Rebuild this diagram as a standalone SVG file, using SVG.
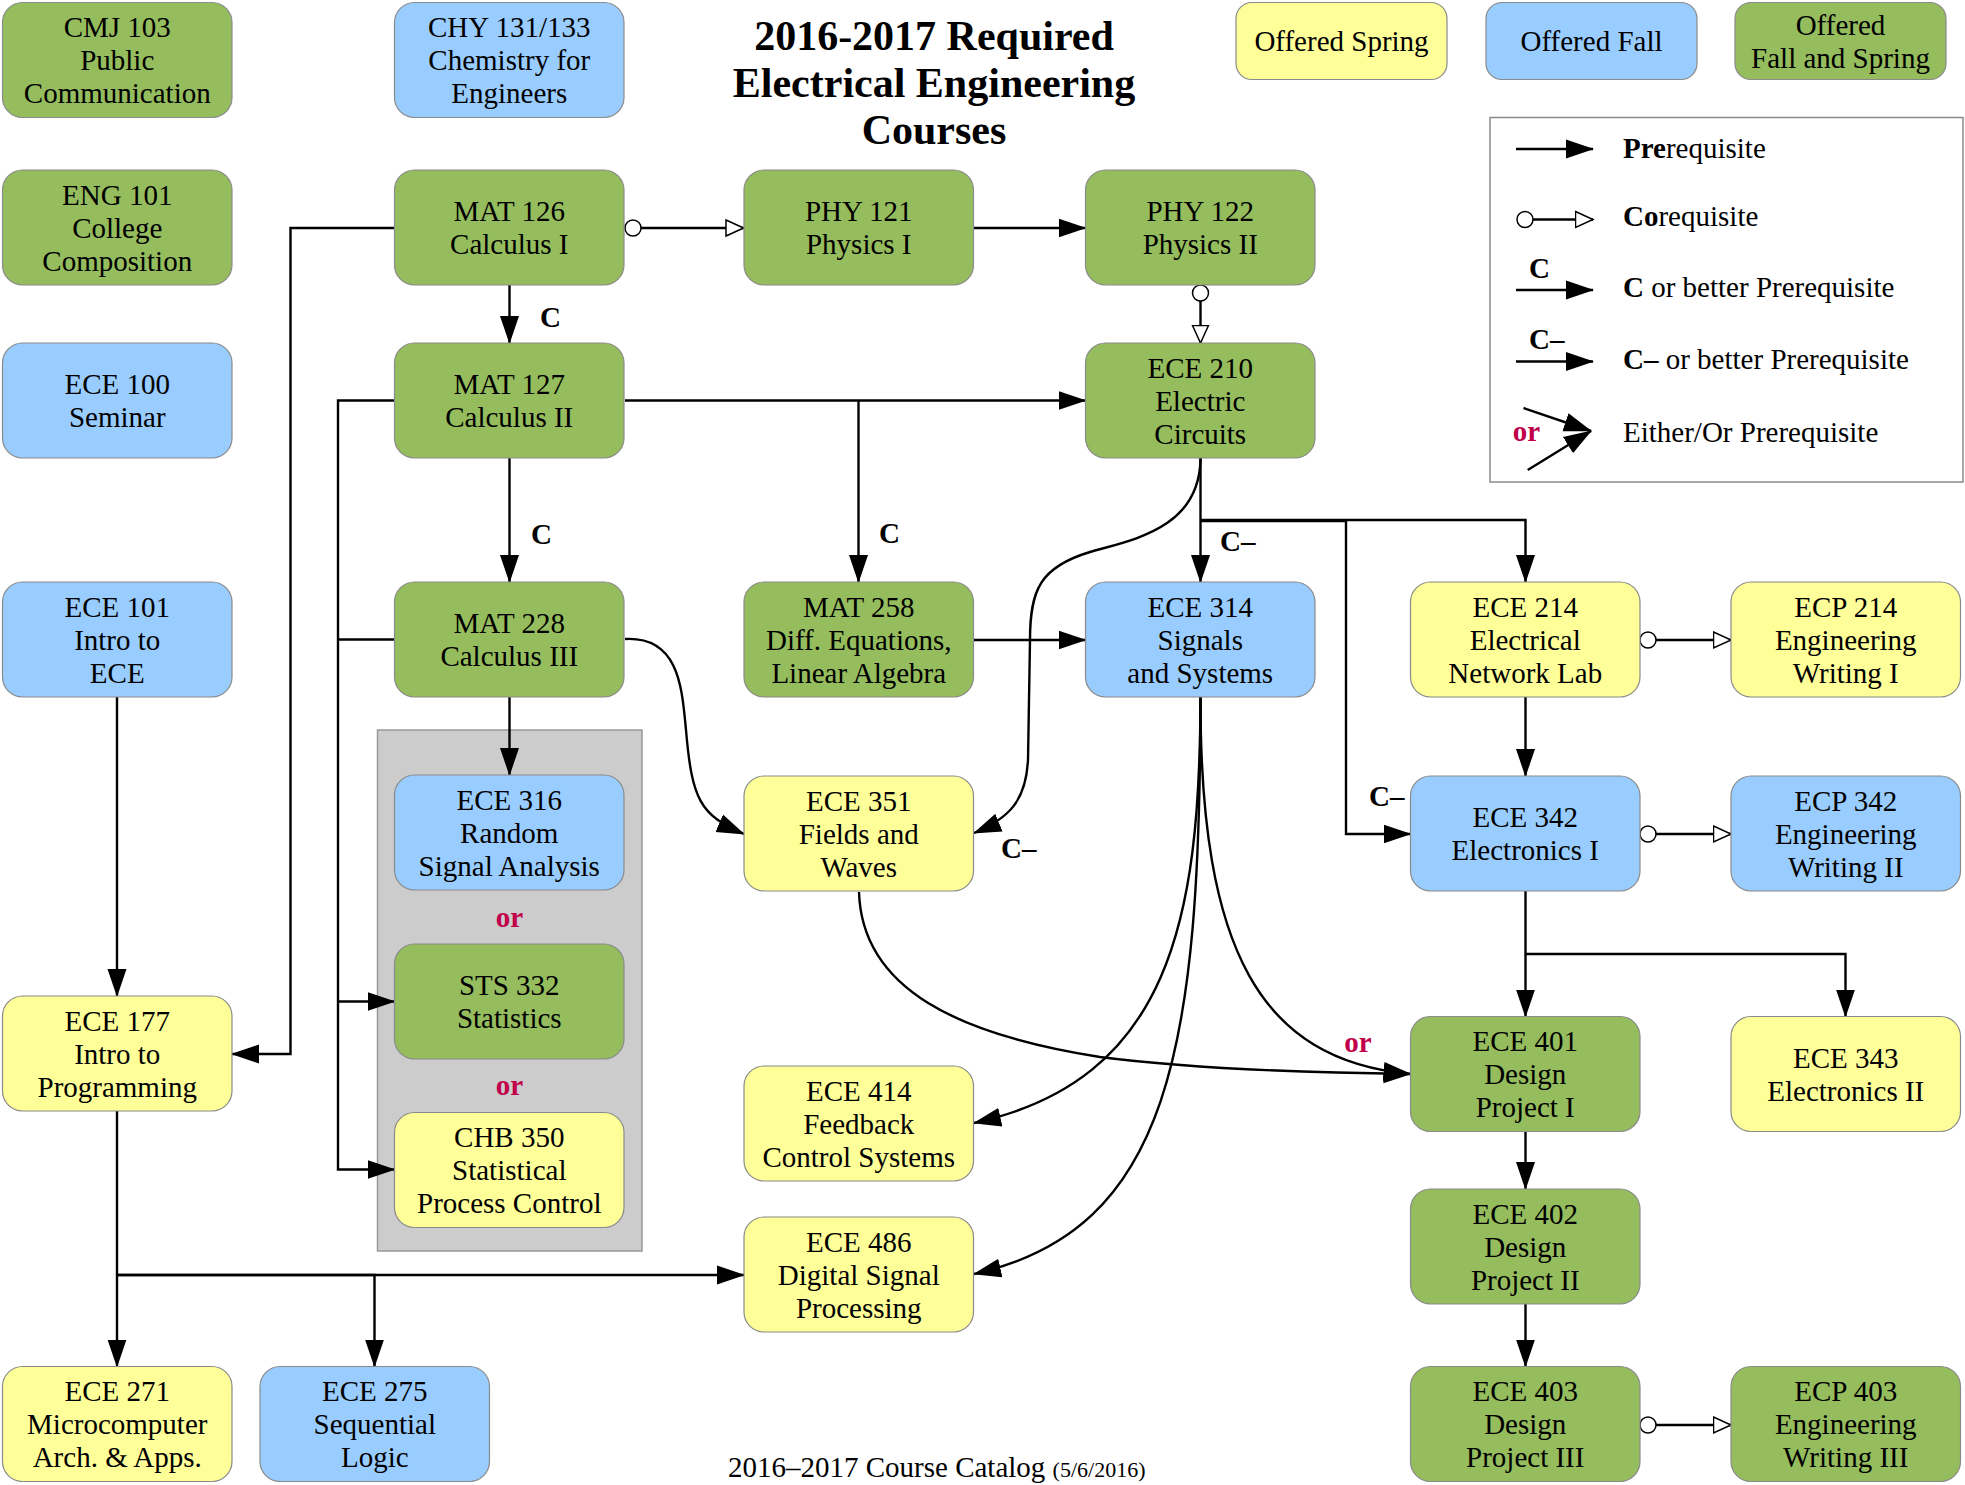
<svg xmlns="http://www.w3.org/2000/svg" width="1965" height="1485" viewBox="0 0 1965 1485">
<style>
text{font-family:"Liberation Serif","Times New Roman",serif;fill:#000}
.t{font-size:29px;text-anchor:middle}
.lt{font-size:29px}
.lb{font-size:29px;font-weight:bold}
.or{font-size:29px;font-weight:bold;fill:#c0004a;text-anchor:middle}
.ttl{font-size:42px;font-weight:bold;text-anchor:middle}
.n{stroke:#8a8a8a;stroke-width:1.2}
.g{fill:#95bc5d}
.b{fill:#99ccff}
.y{fill:#ffff99}
.e{fill:none;stroke:#000;stroke-width:2.4}
.p{marker-end:url(#ah)}
.c{marker-start:url(#oc);marker-end:url(#oh)}
</style>
<defs>
<marker id="ah" viewBox="0 0 28 20" refX="27" refY="10" markerWidth="28" markerHeight="20" markerUnits="userSpaceOnUse" orient="auto"><path d="M0,0.5 L28,10 L0,19.5 z" fill="#000"/></marker>
<marker id="oh" viewBox="0 0 20 20" refX="18.5" refY="10" markerWidth="20" markerHeight="20" markerUnits="userSpaceOnUse" orient="auto"><path d="M1,2 L18.5,10 L1,18 z" fill="#fff" stroke="#000" stroke-width="1.5"/></marker>
<marker id="oc" viewBox="0 0 20 20" refX="1" refY="10" markerWidth="20" markerHeight="20" markerUnits="userSpaceOnUse" orient="auto"><circle cx="9" cy="10" r="8" fill="#fff" stroke="#000" stroke-width="1.5"/></marker>
</defs>
<rect width="1965" height="1485" fill="#fff"/>

<g id="title">
<text class="ttl" x="934" y="50">2016-2017 Required</text>
<text class="ttl" x="934" y="97">Electrical Engineering</text>
<text class="ttl" x="934" y="144">Courses</text>
</g>

<g id="legend">
<rect class="n y" x="1236" y="2.5" width="211" height="77" rx="16"/>
<text class="t" x="1341.5" y="51">Offered Spring</text>
<rect class="n b" x="1486" y="2.5" width="211" height="77" rx="16"/>
<text class="t" x="1591.5" y="51">Offered Fall</text>
<rect class="n g" x="1735" y="2.5" width="211" height="77" rx="16"/>
<text class="t" x="1840.5" y="34.5">Offered</text>
<text class="t" x="1840.5" y="67.5">Fall and Spring</text>
<rect x="1490" y="117.5" width="473" height="364.5" fill="#fff" stroke="#8a8a8a" stroke-width="1.5"/>
<path class="e p" d="M1516,149 L1593,149"/>
<text class="lt" x="1623" y="158"><tspan font-weight="bold">Pre</tspan>requisite</text>
<path class="e c" d="M1517,219.5 L1593,219.5" stroke-width="2"/>
<text class="lt" x="1623" y="226"><tspan font-weight="bold">Co</tspan>requisite</text>
<text class="lb" x="1529" y="278">C</text>
<path class="e p" d="M1516,290 L1593,290"/>
<text class="lt" x="1623" y="297"><tspan font-weight="bold">C</tspan> or better Prerequisite</text>
<text class="lb" x="1529" y="349">C–</text>
<path class="e p" d="M1516,361.5 L1593,361.5"/>
<text class="lt" x="1623" y="369"><tspan font-weight="bold">C–</tspan> or better Prerequisite</text>
<text class="or" x="1526.5" y="441">or</text>
<path class="e p" d="M1523.5,408 L1591,431"/>
<path class="e p" d="M1527.7,470 L1591,431"/>
<text class="lt" x="1623" y="442">Either/Or Prerequisite</text>
</g>

<g id="footer">
<text class="lt" x="728" y="1477" font-size="29.5">2016–2017 Course Catalog <tspan font-size="22">(5/6/2016)</tspan></text>
</g>

<g id="group-stats">
<rect x="377.5" y="730" width="264.5" height="521" fill="#cccccc" stroke="#999" stroke-width="1.5"/>
<text class="or" x="509.5" y="927">or</text>
<text class="or" x="509.5" y="1095">or</text>
</g>

<g id="connectors">
<path class="e c" d="M625,228 L743.5,228"/>
<path class="e c" d="M1200.5,285 L1200.5,343"/>
<path class="e c" d="M1640,640 L1731,640"/>
<path class="e c" d="M1640,834 L1731,834"/>
<path class="e c" d="M1640,1425 L1731,1425"/>

<path class="e p" d="M974,228 L1085.5,228"/>
<path class="e p" d="M509.5,285 L509.5,343"/>
<path class="e p" d="M509.5,458 L509.5,582"/>
<path class="e p" d="M625,400.5 L1085.5,400.5"/>
<path class="e p" d="M858.5,400.5 L858.5,582"/>
<path class="e p" d="M394.5,228 L290.5,228 L290.5,1054 L232,1054"/>
<path class="e p" d="M394.5,400.5 L338,400.5 L338,1169.5 L394.5,1169.5"/>
<path class="e p" d="M338,1001.5 L394.5,1001.5"/>
<path class="e" d="M394.5,639.5 L338,639.5"/>
<path class="e p" d="M509.5,697 L509.5,775"/>
<path class="e p" d="M625,639 C680,636 682,690 686,730 C692,800 700,815 744,834"/>
<path class="e p" d="M974,640 L1085.5,640"/>
<path class="e p" d="M1200.5,458 L1200.5,582"/>
<path class="e p" d="M1200.5,520 L1525.5,520 L1525.5,582"/>
<path class="e p" d="M1200.5,521 L1346,521 L1346,834 L1410.5,834"/>
<path class="e p" d="M1200.5,458 C1200,530 1130,540 1090,552 C1040,567 1030,590 1030,640 L1028,760 C1026,800 1010,818 974,833"/>
<path class="e p" d="M1525.5,697 L1525.5,776"/>
<path class="e p" d="M1525.5,891 L1525.5,1016.5"/>
<path class="e p" d="M1525.5,954 L1845.5,954 L1845.5,1016.5"/>
<path class="e p" d="M1525.5,1131.5 L1525.5,1189"/>
<path class="e p" d="M1525.5,1304 L1525.5,1366.5"/>
<path class="e p" d="M117,697 L117,996"/>
<path class="e p" d="M117,1111 L117,1366.5"/>
<path class="e p" d="M117,1275 L374.5,1275 L374.5,1366.5"/>
<path class="e p" d="M117,1275 L744,1275"/>
<path class="e p" d="M1200.5,697 C1200,920 1170,1080 974,1123"/>
<path class="e p" d="M1200.5,697 C1200,1050 1170,1230 974,1274"/>
<path class="e p" d="M1200.5,697 C1200,950 1260,1060 1410.5,1074"/>
<path class="e p" d="M859,892 C862,990 960,1035 1100,1057 C1200,1070 1330,1073 1410.5,1074"/>
<text class="lb" x="540" y="327">C</text>
<text class="lb" x="531" y="544">C</text>
<text class="lb" x="879" y="543">C</text>
<text class="lb" x="1220" y="551">C–</text>
<text class="lb" x="1001" y="858">C–</text>
<text class="lb" x="1369" y="806">C–</text>
<text class="or" x="1358" y="1052">or</text>
</g>

<g id="cmj103"><rect class="n g" x="2.5" y="2.5" width="229.5" height="115" rx="20"/><text class="t"><tspan x="117.25" y="37">CMJ 103</tspan><tspan x="117.25" y="70">Public</tspan><tspan x="117.25" y="103">Communication</tspan></text></g>
<g id="chy131"><rect class="n b" x="394.5" y="2.5" width="229.5" height="115" rx="20"/><text class="t"><tspan x="509.25" y="37">CHY 131/133</tspan><tspan x="509.25" y="70">Chemistry for</tspan><tspan x="509.25" y="103">Engineers</tspan></text></g>
<g id="eng101"><rect class="n g" x="2.5" y="170" width="229.5" height="115" rx="20"/><text class="t"><tspan x="117.25" y="204.5">ENG 101</tspan><tspan x="117.25" y="237.5">College</tspan><tspan x="117.25" y="270.5">Composition</tspan></text></g>
<g id="mat126"><rect class="n g" x="394.5" y="170" width="229.5" height="115" rx="20"/><text class="t"><tspan x="509.25" y="221">MAT 126</tspan><tspan x="509.25" y="254">Calculus I</tspan></text></g>
<g id="phy121"><rect class="n g" x="744" y="170" width="229.5" height="115" rx="20"/><text class="t"><tspan x="858.75" y="221">PHY 121</tspan><tspan x="858.75" y="254">Physics I</tspan></text></g>
<g id="phy122"><rect class="n g" x="1085.5" y="170" width="229.5" height="115" rx="20"/><text class="t"><tspan x="1200.25" y="221">PHY 122</tspan><tspan x="1200.25" y="254">Physics II</tspan></text></g>
<g id="ece100"><rect class="n b" x="2.5" y="343" width="229.5" height="115" rx="20"/><text class="t"><tspan x="117.25" y="394">ECE 100</tspan><tspan x="117.25" y="427">Seminar</tspan></text></g>
<g id="mat127"><rect class="n g" x="394.5" y="343" width="229.5" height="115" rx="20"/><text class="t"><tspan x="509.25" y="394">MAT 127</tspan><tspan x="509.25" y="427">Calculus II</tspan></text></g>
<g id="ece210"><rect class="n g" x="1085.5" y="343" width="229.5" height="115" rx="20"/><text class="t"><tspan x="1200.25" y="377.5">ECE 210</tspan><tspan x="1200.25" y="410.5">Electric</tspan><tspan x="1200.25" y="443.5">Circuits</tspan></text></g>
<g id="ece101"><rect class="n b" x="2.5" y="582" width="229.5" height="115" rx="20"/><text class="t"><tspan x="117.25" y="616.5">ECE 101</tspan><tspan x="117.25" y="649.5">Intro to</tspan><tspan x="117.25" y="682.5">ECE</tspan></text></g>
<g id="mat228"><rect class="n g" x="394.5" y="582" width="229.5" height="115" rx="20"/><text class="t"><tspan x="509.25" y="633">MAT 228</tspan><tspan x="509.25" y="666">Calculus III</tspan></text></g>
<g id="mat258"><rect class="n g" x="744" y="582" width="229.5" height="115" rx="20"/><text class="t"><tspan x="858.75" y="616.5">MAT 258</tspan><tspan x="858.75" y="649.5">Diff. Equations,</tspan><tspan x="858.75" y="682.5">Linear Algebra</tspan></text></g>
<g id="ece314"><rect class="n b" x="1085.5" y="582" width="229.5" height="115" rx="20"/><text class="t"><tspan x="1200.25" y="616.5">ECE 314</tspan><tspan x="1200.25" y="649.5">Signals</tspan><tspan x="1200.25" y="682.5">and Systems</tspan></text></g>
<g id="ece214"><rect class="n y" x="1410.5" y="582" width="229.5" height="115" rx="20"/><text class="t"><tspan x="1525.25" y="616.5">ECE 214</tspan><tspan x="1525.25" y="649.5">Electrical</tspan><tspan x="1525.25" y="682.5">Network Lab</tspan></text></g>
<g id="ecp214"><rect class="n y" x="1731" y="582" width="229.5" height="115" rx="20"/><text class="t"><tspan x="1845.75" y="616.5">ECP 214</tspan><tspan x="1845.75" y="649.5">Engineering</tspan><tspan x="1845.75" y="682.5">Writing I</tspan></text></g>
<g id="ece316"><rect class="n b" x="394.5" y="775" width="229.5" height="115" rx="20"/><text class="t"><tspan x="509.25" y="809.5">ECE 316</tspan><tspan x="509.25" y="842.5">Random</tspan><tspan x="509.25" y="875.5">Signal Analysis</tspan></text></g>
<g id="ece351"><rect class="n y" x="744" y="776" width="229.5" height="115" rx="20"/><text class="t"><tspan x="858.75" y="810.5">ECE 351</tspan><tspan x="858.75" y="843.5">Fields and</tspan><tspan x="858.75" y="876.5">Waves</tspan></text></g>
<g id="ece342"><rect class="n b" x="1410.5" y="776" width="229.5" height="115" rx="20"/><text class="t"><tspan x="1525.25" y="827">ECE 342</tspan><tspan x="1525.25" y="860">Electronics I</tspan></text></g>
<g id="ecp342"><rect class="n b" x="1731" y="776" width="229.5" height="115" rx="20"/><text class="t"><tspan x="1845.75" y="810.5">ECP 342</tspan><tspan x="1845.75" y="843.5">Engineering</tspan><tspan x="1845.75" y="876.5">Writing II</tspan></text></g>
<g id="sts332"><rect class="n g" x="394.5" y="944" width="229.5" height="115" rx="20"/><text class="t"><tspan x="509.25" y="995">STS 332</tspan><tspan x="509.25" y="1028">Statistics</tspan></text></g>
<g id="ece177"><rect class="n y" x="2.5" y="996" width="229.5" height="115" rx="20"/><text class="t"><tspan x="117.25" y="1030.5">ECE 177</tspan><tspan x="117.25" y="1063.5">Intro to</tspan><tspan x="117.25" y="1096.5">Programming</tspan></text></g>
<g id="ece401"><rect class="n g" x="1410.5" y="1016.5" width="229.5" height="115" rx="20"/><text class="t"><tspan x="1525.25" y="1051">ECE 401</tspan><tspan x="1525.25" y="1084">Design</tspan><tspan x="1525.25" y="1117">Project I</tspan></text></g>
<g id="ece343"><rect class="n y" x="1731" y="1016.5" width="229.5" height="115" rx="20"/><text class="t"><tspan x="1845.75" y="1067.5">ECE 343</tspan><tspan x="1845.75" y="1100.5">Electronics II</tspan></text></g>
<g id="ece414"><rect class="n y" x="744" y="1066" width="229.5" height="115" rx="20"/><text class="t"><tspan x="858.75" y="1100.5">ECE 414</tspan><tspan x="858.75" y="1133.5">Feedback</tspan><tspan x="858.75" y="1166.5">Control Systems</tspan></text></g>
<g id="chb350"><rect class="n y" x="394.5" y="1112.5" width="229.5" height="115" rx="20"/><text class="t"><tspan x="509.25" y="1147">CHB 350</tspan><tspan x="509.25" y="1180">Statistical</tspan><tspan x="509.25" y="1213">Process Control</tspan></text></g>
<g id="ece402"><rect class="n g" x="1410.5" y="1189" width="229.5" height="115" rx="20"/><text class="t"><tspan x="1525.25" y="1223.5">ECE 402</tspan><tspan x="1525.25" y="1256.5">Design</tspan><tspan x="1525.25" y="1289.5">Project II</tspan></text></g>
<g id="ece486"><rect class="n y" x="744" y="1217" width="229.5" height="115" rx="20"/><text class="t"><tspan x="858.75" y="1251.5">ECE 486</tspan><tspan x="858.75" y="1284.5">Digital Signal</tspan><tspan x="858.75" y="1317.5">Processing</tspan></text></g>
<g id="ece271"><rect class="n y" x="2.5" y="1366.5" width="229.5" height="115" rx="20"/><text class="t"><tspan x="117.25" y="1401">ECE 271</tspan><tspan x="117.25" y="1434">Microcomputer</tspan><tspan x="117.25" y="1467">Arch. &amp; Apps.</tspan></text></g>
<g id="ece275"><rect class="n b" x="260" y="1366.5" width="229.5" height="115" rx="20"/><text class="t"><tspan x="374.75" y="1401">ECE 275</tspan><tspan x="374.75" y="1434">Sequential</tspan><tspan x="374.75" y="1467">Logic</tspan></text></g>
<g id="ece403"><rect class="n g" x="1410.5" y="1366.5" width="229.5" height="115" rx="20"/><text class="t"><tspan x="1525.25" y="1401">ECE 403</tspan><tspan x="1525.25" y="1434">Design</tspan><tspan x="1525.25" y="1467">Project III</tspan></text></g>
<g id="ecp403"><rect class="n g" x="1731" y="1366.5" width="229.5" height="115" rx="20"/><text class="t"><tspan x="1845.75" y="1401">ECP 403</tspan><tspan x="1845.75" y="1434">Engineering</tspan><tspan x="1845.75" y="1467">Writing III</tspan></text></g>
</svg>
